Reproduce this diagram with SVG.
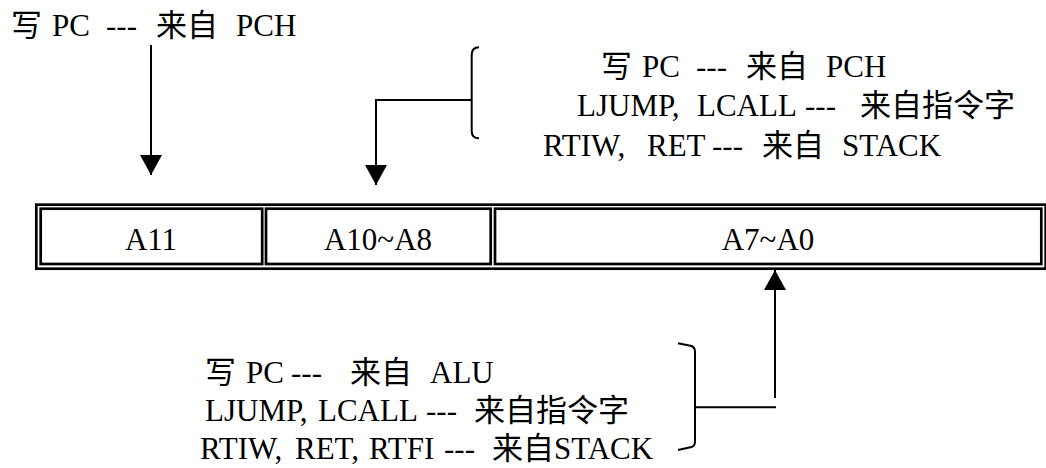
<svg xmlns="http://www.w3.org/2000/svg" width="1046" height="468" viewBox="0 0 1046 468">
<defs>
<marker id="ah" markerUnits="userSpaceOnUse" markerWidth="22" markerHeight="22" viewBox="0 0 22 22" refX="20" refY="11" orient="auto">
<path d="M0,0 L20,11 L0,22 Z" fill="#000"/>
</marker>
</defs>
<rect x="0" y="0" width="1046" height="468" fill="#fff"/>
<g id="register" fill="none" stroke="#000" stroke-width="2.7">
<rect x="36.3" y="204.7" width="1009.4" height="64"/>
<g id="cell-a11">
<rect x="40.7" y="208.7" width="221.5" height="55.3"/>
<text x="151" y="250" text-anchor="middle" fill="#000" stroke="none" font-family="Liberation Serif" font-size="31">A11</text>
</g>
<g id="cell-a10-a8">
<rect x="266" y="208.7" width="224.7" height="55.3"/>
<text x="378" y="250" text-anchor="middle" fill="#000" stroke="none" font-family="Liberation Serif" font-size="31">A10~A8</text>
</g>
<g id="cell-a7-a0">
<rect x="495" y="208.7" width="546.3" height="55.3"/>
<text x="768" y="250" text-anchor="middle" fill="#000" stroke="none" font-family="Liberation Serif" font-size="31">A7~A0</text>
</g>
</g>
<g id="label-top-left" font-family="Liberation Serif, Noto Sans CJK SC, serif" font-size="31" fill="#000">
<text y="36"><tspan x="11">写</tspan><tspan x="52">PC</tspan><tspan x="106">---</tspan><tspan x="156">来自</tspan><tspan x="236">PCH</tspan></text>
</g>
<g id="label-top-right" font-family="Liberation Serif, Noto Sans CJK SC, serif" font-size="31" fill="#000">
<text y="77"><tspan x="601">写</tspan><tspan x="642">PC</tspan><tspan x="696">---</tspan><tspan x="746">来自</tspan><tspan x="826">PCH</tspan></text>
<text y="116"><tspan x="577">LJUMP,</tspan><tspan x="697">LCALL</tspan><tspan x="805">---</tspan><tspan x="860">来自指令字</tspan></text>
<text y="156"><tspan x="543">RTIW,</tspan><tspan x="647">RET</tspan><tspan x="712">---</tspan><tspan x="762">来自</tspan><tspan x="842">STACK</tspan></text>
<path fill="none" stroke="#000" stroke-width="2" d="M479,47.3 Q471.7,47.3 471.7,55 V131 Q471.7,138.3 479,138.3"/>
</g>
<g id="label-bottom" font-family="Liberation Serif, Noto Sans CJK SC, serif" font-size="31" fill="#000">
<text y="383"><tspan x="205">写</tspan><tspan x="246">PC</tspan><tspan x="291">---</tspan><tspan x="350">来自</tspan><tspan x="430">ALU</tspan></text>
<text y="421"><tspan x="205">LJUMP,</tspan><tspan x="318">LCALL</tspan><tspan x="426">---</tspan><tspan x="474">来自指令字</tspan></text>
<text y="459"><tspan x="200">RTIW,</tspan><tspan x="295">RET,</tspan><tspan x="369">RTFI</tspan><tspan x="444">---</tspan><tspan x="492">来自</tspan><tspan x="554">STACK</tspan></text>
<path fill="none" stroke="#000" stroke-width="2" d="M678,343.3 L691.5,346 Q695,347.5 695,352 V441.5 Q695,446 691.5,447 L678,450"/>
</g>
<g id="connectors" fill="none" stroke="#000" stroke-width="2">
<line x1="151" y1="45" x2="151" y2="175" marker-end="url(#ah)"/>
<path d="M471.7,100 H376 V185" marker-end="url(#ah)"/>
<line x1="695" y1="407.3" x2="776" y2="407.3"/>
<line x1="775" y1="398" x2="775" y2="270" marker-end="url(#ah)"/>
</g>
</svg>
